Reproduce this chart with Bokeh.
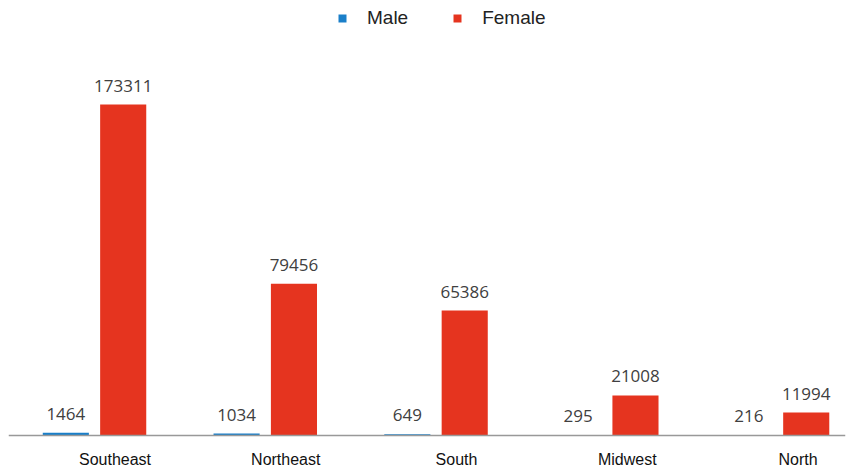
from bokeh.plotting import figure
from bokeh.models import ColumnDataSource, Range1d, Legend, LegendItem, Span
from bokeh.embed import file_html
from bokeh.resources import INLINE
from bokeh.core.properties import value

# Cases by region and sex
regions = ["Southeast", "Northeast", "South", "Midwest", "North"]
male = [1464, 1034, 649, 295, 216]
female = [173311, 79456, 65386, 21008, 11994]

MALE_COLOR = "#1a7fc9"
FEMALE_COLOR = "#e5341f"

idx = list(range(len(regions)))
bar_w = 0.27
shift = 0.168

male_src = ColumnDataSource(dict(x=[i - shift for i in idx], top=male,
                                 label=[str(v) for v in male]))
female_src = ColumnDataSource(dict(x=[i + shift for i in idx], top=female,
                                   label=[str(v) for v in female]))
cat_src = ColumnDataSource(dict(x=[i + 0.12 for i in idx], y=[0] * len(idx),
                                name=regions))

# vertical scale: tallest bar 331 px, baseline 33 px above the bottom edge
per_px = max(female) / 331
y_start = -33 * per_px
y_end = 435 * per_px

p = figure(width=850, height=468, output_backend="svg", toolbar_location=None,
           x_range=Range1d(-0.5037, 4.398), y_range=Range1d(y_start, y_end),
           min_border_left=8, min_border_right=5, min_border_top=0,
           min_border_bottom=0)
p.outline_line_color = None
p.background_fill_color = "white"
p.border_fill_color = "white"
p.xgrid.visible = False
p.ygrid.visible = False
p.xaxis.visible = False
p.yaxis.visible = False

# baseline
p.add_layout(Span(location=0, dimension="width", line_color="#999999",
                  line_width=1.5))

rm = p.vbar(x="x", top="top", bottom=0, width=bar_w, source=male_src,
            fill_color=MALE_COLOR, line_color=None)
rf = p.vbar(x="x", top="top", bottom=0, width=bar_w, source=female_src,
            fill_color=FEMALE_COLOR, line_color=None)

# value labels above each bar
for src in (male_src, female_src):
    p.text(x="x", y="top", text="label", source=src,
           text_font=value("Open Sans"), text_font_size="17px",
           text_color="#404040", text_align="center",
           text_baseline="alphabetic", y_offset=-19)

# region names under the baseline
p.text(x="x", y="y", text="name", source=cat_src,
       text_font=value("Liberation Sans"), text_font_size="16px",
       text_color="#111111", text_align="center", text_baseline="middle",
       y_offset=24)

legend = Legend(items=[LegendItem(label="Male", renderers=[rm]),
                       LegendItem(label="Female", renderers=[rf])],
                orientation="horizontal", location=(329, 439),
                glyph_width=10, glyph_height=10, label_standoff=20,
                spacing=44, padding=0, margin=0,
                label_text_font="Liberation Sans", label_text_font_size="19px",
                label_text_color="#222222", border_line_color=None,
                background_fill_alpha=0)
p.add_layout(legend, "center")

open("out.html", "w").write(file_html(p, INLINE))
